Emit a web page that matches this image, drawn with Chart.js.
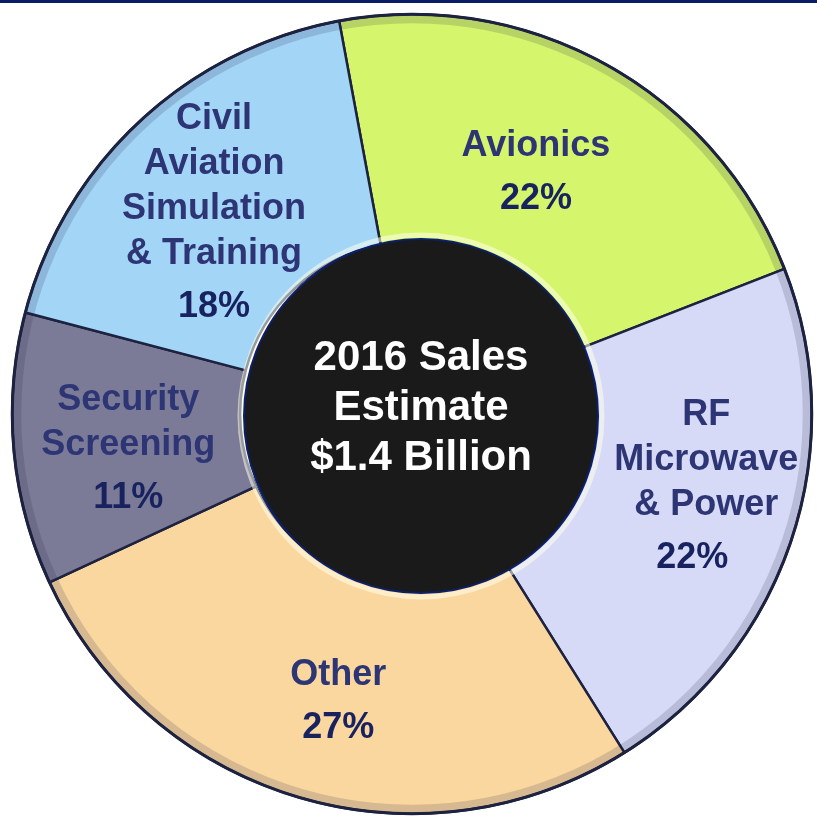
<!DOCTYPE html>
<html>
<head>
<meta charset="utf-8">
<title>2016 Sales Estimate</title>
<script src="https://cdn.jsdelivr.net/npm/chart.js@4/dist/chart.umd.min.js"></script>
<style>
  html, body { margin: 0; padding: 0; background: #ffffff; }
  #wrap { position: relative; width: 817px; height: 820px; overflow: hidden; }
  #topbar { position: absolute; left: 0; top: 0; width: 100%; height: 3px; background: #0b1c66; }
  #chart { position: absolute; left: 0; top: 0; }
</style>
</head>
<body>
<div id="wrap">
  <canvas id="chart" width="817" height="820"></canvas>
  <div id="topbar"></div>
</div>
<script>
// Datos del grafico (porcentaje de ventas por segmento)
const categories = [
  ['Avionics'],
  ['RF', 'Microwave', '& Power'],
  ['Other'],
  ['Security', 'Screening'],
  ['Civil', 'Aviation', 'Simulation', '& Training']
];
const salesShare = [22, 22, 27, 11, 18];
const sliceColors = ['#d5f56c', '#d6daf6', '#fbd7a0', '#7b7b97', '#a3d5f7'];
const centerLines = ['2016 Sales', 'Estimate', '$1.4 Billion'];

// ajuste fino de cada etiqueta respecto al centro del segmento
const labelNudge = [[-16, -12], [21, -40], [8, -11], [3, -13], [-2, -13]];

const FONT = '"Liberation Sans", Arial, sans-serif';

/* ================================
   Plugin: sombreado, circulo central y textos
================================= */
const labelsPlugin = {
  id: 'sliceLabels',
  afterDatasetsDraw(chart) {
    const ctx = chart.ctx;
    const arcs = chart.getDatasetMeta(0).data;
    const cx = arcs[0].x, cy = arcs[0].y;
    const outerR = arcs[0].outerRadius;

    // sombra suave en el borde exterior (efecto relieve)
    ctx.save();
    ctx.beginPath();
    ctx.arc(cx, cy, outerR - 5, 0, Math.PI * 2);
    ctx.lineWidth = 8;
    ctx.strokeStyle = 'rgba(30, 30, 70, 0.16)';
    ctx.stroke();
    ctx.beginPath();
    ctx.arc(cx, cy, outerR, 0, Math.PI * 2);
    ctx.lineWidth = 3;
    ctx.strokeStyle = '#1d2240';
    ctx.stroke();
    ctx.restore();

    // etiquetas de cada segmento
    ctx.save();
    ctx.textAlign = 'center';
    ctx.textBaseline = 'middle';
    ctx.font = 'bold 36px ' + FONT;
    arcs.forEach((arc, i) => {
      const { startAngle, endAngle, outerRadius } = arc.getProps(['startAngle', 'endAngle', 'outerRadius'], true);
      const mid = (startAngle + endAngle) / 2;
      const r = outerRadius * 0.72;
      const lx = cx + Math.cos(mid) * r + labelNudge[i][0];
      const ly = cy + Math.sin(mid) * r + labelNudge[i][1];
      const lines = categories[i];
      const lineH = 45, gap = 8;
      const total = lines.length * lineH + gap;
      let y = ly - total / 2 + lineH / 2;
      ctx.fillStyle = '#2d3575';
      lines.forEach(t => { ctx.fillText(t, lx, y); y += lineH; });
      ctx.fillStyle = '#17225f';
      ctx.fillText(salesShare[i] + '%', lx - (i === 1 ? 14 : 0), y + gap);
    });

    // circulo negro central
    const ox = cx + 9, oy = cy + 2;
    ctx.beginPath();
    ctx.arc(ox, oy, 181, 0, Math.PI * 2);
    ctx.lineWidth = 5;
    ctx.strokeStyle = 'rgba(255, 255, 235, 0.55)';
    ctx.stroke();
    ctx.beginPath();
    ctx.arc(ox, oy, 177, 0, Math.PI * 2);
    ctx.fillStyle = '#1a1a1a';
    ctx.fill();
    ctx.lineWidth = 2;
    ctx.strokeStyle = '#0b1f6b';
    ctx.stroke();

    ctx.fillStyle = '#ffffff';
    ctx.font = 'bold 42px ' + FONT;
    centerLines.forEach((t, i) => ctx.fillText(t, ox, oy - 58 + i * 50));
    ctx.restore();
  }
};

new Chart(document.getElementById('chart'), {
  type: 'doughnut',
  data: {
    labels: categories.map(c => c.join(' ')),
    datasets: [{
      data: salesShare,
      backgroundColor: sliceColors,
      borderColor: '#1d2240',
      borderWidth: 2.5
    }]
  },
  options: {
    responsive: false,
    animation: false,
    rotation: -10.5,
    cutout: '43%',
    layout: { padding: { left: 11, right: 4, top: 13, bottom: 5 } },
    plugins: {
      legend: { display: false },
      tooltip: { enabled: false }
    }
  },
  plugins: [labelsPlugin]
});
</script>
</body>
</html>
